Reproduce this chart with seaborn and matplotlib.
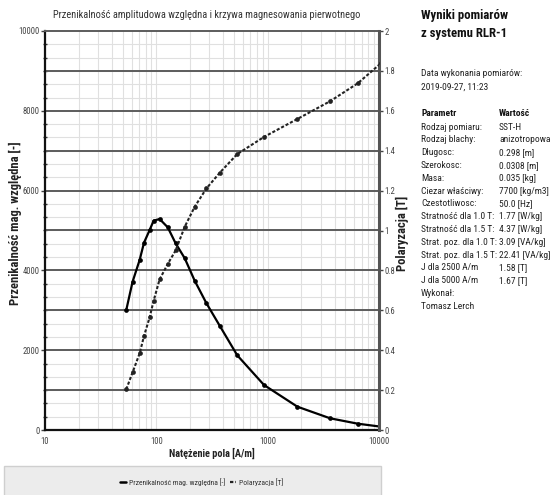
import numpy as np
import pandas as pd
import matplotlib
matplotlib.use("Agg")
import matplotlib.pyplot as plt
from matplotlib import font_manager
from matplotlib.font_manager import FontProperties
from matplotlib.ticker import FixedLocator, MultipleLocator, NullFormatter, LogLocator
from matplotlib.patches import Rectangle
from matplotlib.lines import Line2D
import seaborn as sns

# Measured data: field strength, relative amplitude permeability, polarization
field_H = [53.7, 61.2, 70.8, 77.5, 87.1, 94.6, 107, 126.6, 149, 180, 221, 282,
           372, 533, 927, 1849, 3640, 6450, 10400]
permeability = [3008, 3717, 4261, 4694, 5013, 5246, 5288, 5080, 4679, 4303, 3742,
                3175, 2607, 1872, 1128, 584, 293, 158, 83]
polarization = [0.204, 0.289, 0.384, 0.471, 0.565, 0.648, 0.755, 0.832, 0.90, 1.019,
                1.119, 1.211, 1.29, 1.383, 1.469, 1.559, 1.648, 1.738, 1.838]

x_ticks = [10, 100, 1000, 10000]
left_ticks = [0, 2000, 4000, 6000, 8000, 10000]
right_ticks = [0, 0.2, 0.4, 0.6, 0.8, 1.0, 1.2, 1.4, 1.6, 1.8, 2.0]

title = "Przenikalność amplitudowa względna i krzywa magnesowania pierwotnego"
x_label = "Natężenie pola [A/m]"
left_label = "Przenikalność mag. względna [-]"
right_label = "Polaryzacja [T]"
series_names = ["Przenikalność mag. względna [-]", "Polaryzacja [T]"]

info_title = ["Wyniki pomiarów", "z systemu RLR-1"]
date_lines = ["Data wykonania pomiarów:", "2019-09-27, 11:23"]
param_names = ["Rodzaj pomiaru:", "Rodzaj blachy:", "Długosc:", "Szerokosc:", "Masa:",
               "Ciezar właściwy:", "Czestotliwosc:", "Stratność dla 1.0 T:",
               "Stratność dla 1.5 T:", "Strat. poz. dla 1.0 T:", "Strat. poz. dla 1.5 T:",
               "J dla 2500 A/m", "J dla 5000 A/m", "Wykonał:", "Tomasz Lerch"]
param_values = ["SST-H", "anizotropowa", "0.298 [m]", "0.0308 [m]", "0.035 [kg]",
                "7700 [kg/m3]", "50.0 [Hz]", "1.77 [W/kg]", "4.37 [W/kg]",
                "3.09 [VA/kg]", "22.41 [VA/kg]", "1.58 [T]", "1.67 [T]", "", ""]

df = pd.DataFrame({"H": field_H, "mu": permeability, "J": polarization})

sns.set_style("white")
installed = {f.name for f in font_manager.fontManager.ttflist}
family = next((f for f in ["Liberation Sans Narrow", "DejaVu Sans Condensed",
                           "Roboto Condensed", "Liberation Sans", "DejaVu Sans"]
               if f in installed), "DejaVu Sans")
plt.rcParams["font.family"] = [family, "DejaVu Sans"]
plt.rcParams["axes.unicode_minus"] = False

W, H = 550, 495
fig = plt.figure(figsize=(W / 100, H / 100), dpi=100)
renderer = fig.canvas.get_renderer()


def fit_size(text, width_px, weight="normal", max_size=9.0):
    """Font size (pt) at which `text` spans about `width_px` pixels."""
    prop = FontProperties(family=[family, "DejaVu Sans"], weight=weight, size=10)
    w, _, _ = renderer.get_text_width_height_descent(text, prop, ismath=False)
    return min(max_size, 10 * width_px / w)


def fx(px):
    return px / W


def fy(py):
    return 1 - py / H


body_size = fit_size("Strat. poz. dla 1.5 T:", 75, max_size=7.5)
head_size = fit_size("Wyniki pomiarów", 87, weight="bold", max_size=10)
title_size = fit_size(title, 305, max_size=8.5)
tick_size = fit_size("10000", 21, max_size=7.5)
xlabel_size = fit_size(x_label, 86, weight="bold", max_size=8)
ylabel_size = fit_size(left_label, 170, weight="bold", max_size=9)
rlabel_size = fit_size(right_label, 78, weight="bold", max_size=9)
legend_size = fit_size(series_names[0], 97, max_size=7.5)

left_px, right_px, top_px, bottom_px = 45, 379, 31, 430
ax = fig.add_axes([fx(left_px), fy(bottom_px), fx(right_px) - fx(left_px),
                   fy(top_px) - fy(bottom_px)])
ax2 = ax.twinx()

ax.set_xscale("log")
ax.set_xlim(10, 10000)
ax.set_ylim(0, 10000)
ax2.set_ylim(0, 2)

# light grid
ax.xaxis.set_major_locator(FixedLocator(x_ticks))
ax.xaxis.set_minor_locator(LogLocator(base=10, subs=np.arange(2, 10)))
ax.xaxis.set_minor_formatter(NullFormatter())
ax.set_xticklabels([str(v) for v in x_ticks])
ax.yaxis.set_major_locator(FixedLocator(left_ticks))
ax.yaxis.set_minor_locator(MultipleLocator(2000 / 6))
ax.set_yticklabels([str(v) for v in left_ticks])
ax.grid(which="both", axis="x", color="#e0e0e0", lw=0.8, zorder=0)
ax.grid(which="minor", axis="y", color="#e0e0e0", lw=0.8, zorder=0)
ax.set_axisbelow(True)

# dark horizontal lines at the right-axis major ticks
for t in right_ticks[1:-1]:
    ax.axhline(t * 5000, color="#5c5c5c", lw=1.4, zorder=1)

sns.lineplot(data=df, x="H", y="mu", ax=ax, color="black", lw=1.6, marker="o",
             markersize=3.4, markeredgewidth=0, zorder=3, legend=False)
sns.lineplot(data=df, x="H", y="J", ax=ax2, color="#222222", lw=1.5,
             linestyle=(0, (1.5, 0.9)), marker="o", markersize=3.4,
             markeredgewidth=0, zorder=3, legend=False)

ax2.yaxis.set_major_locator(FixedLocator(right_ticks))
ax2.set_yticklabels([("%g" % v) for v in right_ticks])
ax2.grid(False)

tick_color = "#444444"
ax.tick_params(axis="x", which="both", length=0, labelsize=tick_size, colors=tick_color, pad=5)
ax.tick_params(axis="y", which="major", direction="out", length=3, width=1,
               labelsize=tick_size, colors=tick_color, pad=1)
ax.tick_params(axis="y", which="minor", direction="inout", length=3, width=1,
               color="#333333")
ax2.tick_params(axis="y", which="major", direction="out", length=3, width=1,
                labelsize=tick_size, colors=tick_color, pad=1)

ax.spines["left"].set_color("#111111")
ax.spines["left"].set_linewidth(1.6)
ax.spines["bottom"].set_color("#111111")
ax.spines["bottom"].set_linewidth(1.6)
ax.spines["top"].set_color("#5c5c5c")
ax.spines["top"].set_linewidth(1.4)
ax.spines["right"].set_visible(False)
ax2.spines["right"].set_color("#555555")
ax2.spines["right"].set_linewidth(2.2)
for side in ("left", "top", "bottom"):
    ax2.spines[side].set_visible(False)

ax.set_xlabel("")
ax.set_ylabel("")
ax2.set_ylabel("")

fig.text(fx(207), fy(15), title, ha="center", va="center", fontsize=title_size,
         color="#333333")
fig.text(fx(212), fy(453), x_label, ha="center", va="center", fontsize=xlabel_size,
         fontweight="bold", color="#222222")
fig.text(fx(15), fy(223), left_label, ha="center", va="center", rotation=90,
         fontsize=ylabel_size, fontweight="bold", color="#222222")
fig.text(fx(402), fy(233), right_label, ha="center", va="center", rotation=90,
         fontsize=rlabel_size, fontweight="bold", color="#222222")

# legend box under the chart
fig.add_artist(Rectangle((fx(4), fy(500)), fx(381) - fx(4), fy(466) - fy(500),
                         transform=fig.transFigure, facecolor="#ececec",
                         edgecolor="#cfcfcf", lw=1, zorder=0))
handles = [Line2D([], [], color="black", lw=1.8),
           Line2D([], [], color="#222222", lw=1.6, linestyle=(0, (1.5, 0.9)))]
fig.legend(handles, series_names, loc="center", bbox_to_anchor=(fx(202), fy(482)),
           ncol=2, frameon=False, fontsize=legend_size, handlelength=0.8,
           handletextpad=0.4, columnspacing=0.6, labelcolor="#333333")

# measurement summary panel
px0, px1 = 421, 499
fig.text(fx(px0), fy(16), info_title[0], ha="left", va="center", fontsize=head_size,
         fontweight="bold", color="#111111")
fig.text(fx(px0), fy(34), info_title[1], ha="left", va="center", fontsize=head_size,
         fontweight="bold", color="#111111")
fig.text(fx(px0), fy(74), date_lines[0], ha="left", va="center", fontsize=body_size,
         color="#222222")
fig.text(fx(px0), fy(87), date_lines[1], ha="left", va="center", fontsize=body_size,
         color="#222222")
fig.text(fx(px0), fy(114), "Parametr", ha="left", va="center", fontsize=body_size,
         fontweight="bold", color="#111111")
fig.text(fx(px1), fy(114), "Wartość", ha="left", va="center", fontsize=body_size,
         fontweight="bold", color="#111111")
for i, (name, val) in enumerate(zip(param_names, param_values)):
    y = 127 + i * 12.8
    fig.text(fx(px0), fy(y), name, ha="left", va="center", fontsize=body_size,
             color="#222222")
    if val:
        fig.text(fx(px1), fy(y), val, ha="left", va="center", fontsize=body_size,
                 color="#222222")

fig.savefig("out.png", dpi=100, facecolor="white")
